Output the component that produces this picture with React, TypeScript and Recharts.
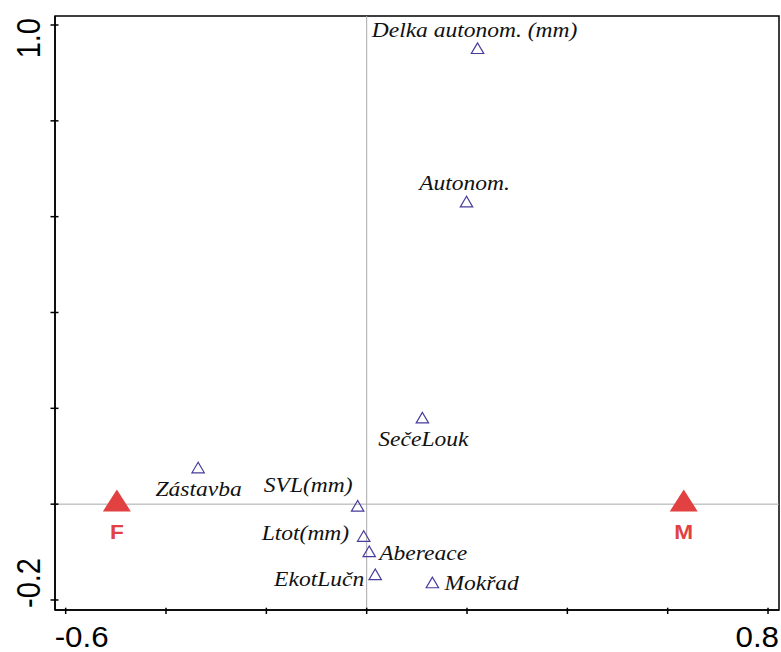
import React from 'react';
import { ScatterChart, Scatter, XAxis, YAxis, ReferenceLine, ReferenceArea } from 'recharts';

// Explanatory variables (open triangles): names and scores on the two ordination axes
const variableNames = [
  'Delka autonom. (mm)',
  'Autonom.',
  'SečeLouk',
  'Zástavba',
  'SVL(mm)',
  'Ltot(mm)',
  'Abereace',
  'EkotLučn',
  'Mokřad',
];
const variableAxis1 = [0.221, 0.199, 0.111, -0.336, -0.018, -0.006, 0.005, 0.017, 0.131];
const variableAxis2 = [0.948, 0.628, 0.177, 0.073, -0.007, -0.07, -0.102, -0.15, -0.167];

// Sex centroids (filled red triangles)
const sexNames = ['F', 'M'];
const sexAxis1 = [-0.498, 0.632];
const sexAxis2 = [0, 0];

// Axis ticks and their labels (only the end ticks are labelled)
const xTicks = [-0.6, -0.4, -0.2, 0, 0.2, 0.4, 0.6, 0.8];
const xTickLabels = ['-0.6', '', '', '', '', '', '', '0.8'];
const yTicks = [-0.2, 0, 0.2, 0.4, 0.6, 0.8, 1.0];
const yTickLabels = ['-0.2', '', '', '', '', '', '1.0'];

const X_MIN = -0.6213;
const X_MAX = 0.8219;
const Y_MIN = -0.2209;
const Y_MAX = 1.0188;

const variableData = variableNames.map((name, i) => ({ name, x: variableAxis1[i], y: variableAxis2[i] }));
const sexData = sexNames.map((name, i) => ({ name, x: sexAxis1[i], y: sexAxis2[i] }));

type Placement = { dx: number; dy: number; anchor: 'start' | 'middle' | 'end' };

// Where each variable name sits relative to its symbol
const labelPlacement: Record<string, Placement> = {
  'Delka autonom. (mm)': { dx: -3, dy: -13, anchor: 'middle' },
  'Autonom.': { dx: -2, dy: -13.5, anchor: 'middle' },
  'SečeLouk': { dx: 1, dy: 27, anchor: 'middle' },
  'Zástavba': { dx: 0.5, dy: 26.5, anchor: 'middle' },
  'SVL(mm)': { dx: -5, dy: -16, anchor: 'end' },
  'Ltot(mm)': { dx: -14.5, dy: 2, anchor: 'end' },
  'Abereace': { dx: 10, dy: 7, anchor: 'start' },
  'EkotLučn': { dx: -11, dy: 10, anchor: 'end' },
  'Mokřad': { dx: 12, dy: 6.3, anchor: 'start' },
};

const TRIANGLE_BLUE = '#463c9c';
const CENTROID_RED = '#e24141';
const SANS = '"Liberation Sans", Arial, sans-serif';
const SERIF = '"Liberation Serif", "Times New Roman", serif';

const OpenTriangle = (props: any) => {
  const { cx, cy, payload } = props;
  if (cx == null || cy == null) return null;
  const p = labelPlacement[payload.name] || { dx: 0, dy: -12, anchor: 'middle' };
  const pts = `${cx},${cy - 7} ${cx - 6.2},${cy + 3.6} ${cx + 6.2},${cy + 3.6}`;
  return (
    <g>
      <polygon points={pts} fill="none" stroke={TRIANGLE_BLUE} strokeWidth={1.2} />
      <text
        transform={`translate(${cx + p.dx},${cy + p.dy}) scale(1.12,1)`}
        x={0}
        y={0}
        textAnchor={p.anchor}
        fontFamily={SERIF}
        fontStyle="italic"
        fontSize={21}
        fill="#111"
      >
        {payload.name}
      </text>
    </g>
  );
};

const FilledTriangle = (props: any) => {
  const { cx, cy, payload } = props;
  if (cx == null || cy == null) return null;
  const pts = `${cx},${cy - 14.7} ${cx - 14},${cy + 7.3} ${cx + 14},${cy + 7.3}`;
  return (
    <g>
      <polygon points={pts} fill={CENTROID_RED} stroke="none" />
      <text
        transform={`translate(${cx},${cy + 35}) scale(1.08,1)`}
        x={0}
        y={0}
        textAnchor="middle"
        fontFamily={SANS}
        fontWeight="bold"
        fontSize={21}
        fill={CENTROID_RED}
      >
        {payload.name}
      </text>
    </g>
  );
};

const indexOf = (list: number[], v: number) => list.findIndex((t) => Math.abs(t - v) < 1e-9);

const XTick = (props: any) => {
  const { x, y, payload } = props;
  const i = indexOf(xTicks, payload.value);
  const label = i >= 0 ? xTickLabels[i] : '';
  const first = i === 0;
  return (
    <g>
      <line x1={x} y1={y - 2.3} x2={x} y2={y + 4} stroke="#000" strokeWidth={1.5} />
      {label && (
        <text
          transform={`translate(${first ? x - 11 : x + 11},647) scale(1.08,1)`}
          x={0}
          y={0}
          textAnchor={first ? 'start' : 'end'}
          fontFamily={SANS}
          fontSize={29}
          fill="#000"
        >
          {label}
        </text>
      )}
    </g>
  );
};

const YTick = (props: any) => {
  const { x, y, payload } = props;
  const i = indexOf(yTicks, payload.value);
  const label = i >= 0 ? yTickLabels[i] : '';
  const first = i === 0;
  return (
    <g>
      <line x1={x - 4.5} y1={y} x2={x + 3.5} y2={y} stroke="#000" strokeWidth={1.5} />
      {label && (
        <text
          transform={`translate(39.5,${first ? 608 : 18}) scale(1.15,1) rotate(-90)`}
          x={0}
          y={0}
          textAnchor={first ? 'start' : 'end'}
          fontFamily={SANS}
          fontSize={29}
          fill="#000"
        >
          {label}
        </text>
      )}
    </g>
  );
};

export default function App() {
  return (
    <div style={{ position: 'absolute', left: 0, top: 0, width: 781, height: 652, background: '#fff' }}>
      <ScatterChart width={781} height={652} margin={{ top: 16, right: 2, bottom: 0, left: 0 }}>
        <XAxis
          type="number"
          dataKey="x"
          domain={[X_MIN, X_MAX]}
          ticks={xTicks}
          interval={0}
          allowDataOverflow
          height={42}
          tickSize={0}
          tickMargin={0}
          tickLine={false}
          axisLine={{ stroke: '#000', strokeWidth: 1.5 }}
          tick={<XTick />}
        />
        <YAxis
          type="number"
          dataKey="y"
          domain={[Y_MIN, Y_MAX]}
          ticks={yTicks}
          interval={0}
          allowDataOverflow
          width={55}
          tickSize={0}
          tickMargin={0}
          tickLine={false}
          axisLine={{ stroke: '#000', strokeWidth: 1.5 }}
          tick={<YTick />}
        />
        <ReferenceArea
          x1={X_MIN}
          x2={X_MAX}
          y1={Y_MIN}
          y2={Y_MAX}
          fill="none"
          fillOpacity={0}
          stroke="#000"
          strokeWidth={1.5}
          ifOverflow="visible"
        />
        <ReferenceLine x={0} stroke="#a9a9a9" strokeWidth={1} />
        <ReferenceLine y={0} stroke="#a9a9a9" strokeWidth={1} />
        <Scatter data={variableData} shape={<OpenTriangle />} isAnimationActive={false} />
        <Scatter data={sexData} shape={<FilledTriangle />} isAnimationActive={false} />
      </ScatterChart>
    </div>
  );
}
